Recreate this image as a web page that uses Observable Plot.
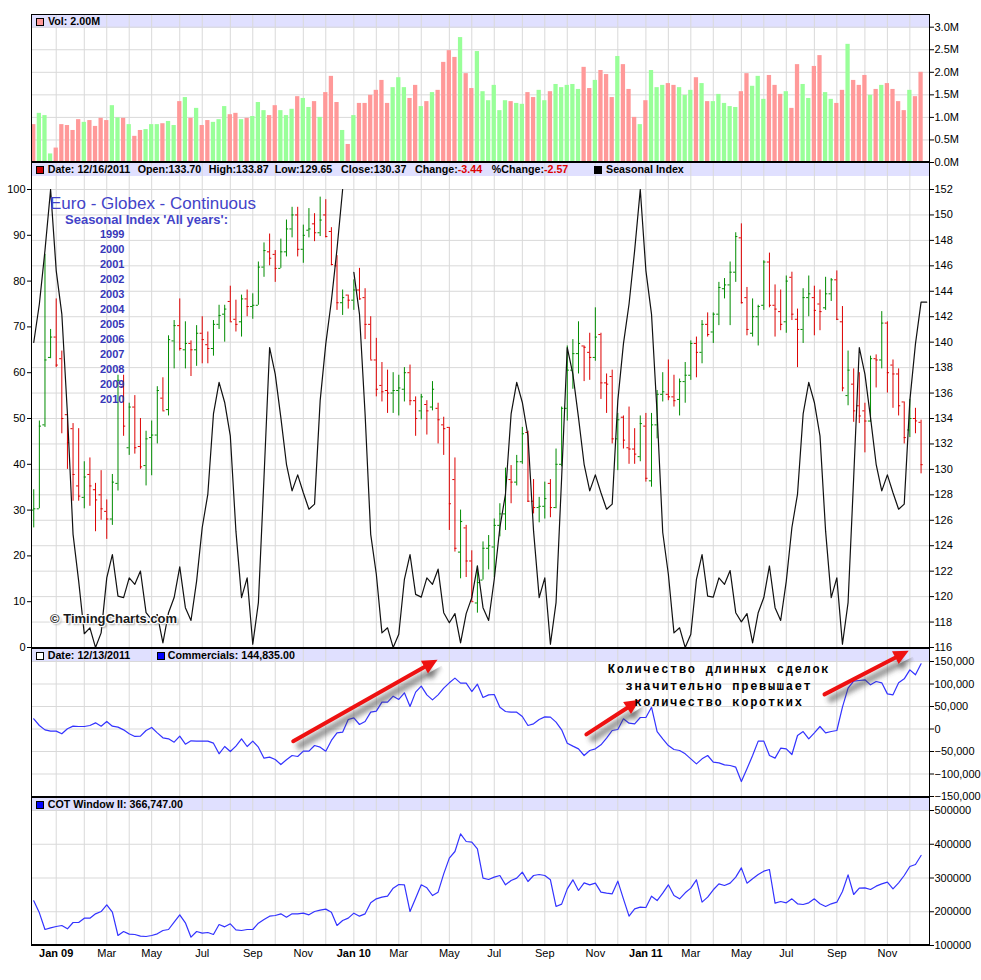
<!DOCTYPE html>
<html lang="ru">
<head>
<meta charset="UTF-8">
<title>Euro - Globex - Continuous</title>
<script src="https://cdn.jsdelivr.net/npm/d3@7"></script>
<script src="https://cdn.jsdelivr.net/npm/@observablehq/plot@0.6"></script>
<style>
  body { margin: 0; background: #fff; }
  #chart { position: relative; width: 981px; height: 980px; font-family: "Liberation Sans", Arial, sans-serif; }
  #chart svg { position: absolute; left: 0; z-index: 1; }
  #chart div { z-index: 2; }
  #chart div.band { z-index: 0; }
  .band { position: absolute; left: 32px; width: 897px; height: 13px; background: rgba(204,204,255,0.6); }
  .hdr { position: absolute; font-size: 10.7px; font-weight: bold; line-height: 13px; white-space: nowrap; color: #000; }
  .sq { position: absolute; left: 36px; width: 6px; height: 6px; border: 1px solid #000; }
  .neg { color: #dd0000; }
  .frame { position: absolute; left: 31px; top: 14px; width: 897px; height: 929px; border: 1px solid #000; border-bottom-width: 2px; }
  .sep { position: absolute; left: 31px; width: 899px; height: 2px; background: #000; }
  .title { position: absolute; color: #4343c8; white-space: nowrap; }
  .years { position: absolute; left: 100px; top: 227px; font-size: 11px; font-weight: bold; line-height: 15px; color: #3636b8; }
  .copy { position: absolute; left: 50px; top: 611px; font-size: 13px; font-weight: bold; color: #1a1a1a;
          text-shadow: 1px 1px 0 #fff, -1px -1px 0 #fff, 1px -1px 0 #fff, -1px 1px 0 #fff, 2px 2px 2px #999; }
  .note { position: absolute; left: 601px; top: 662px; width: 236px; text-align: center; font-family: "Liberation Mono", monospace;
          font-size: 12px; font-weight: bold; letter-spacing: 1.7px; line-height: 16.7px; color: #000; white-space: nowrap; }
</style>
</head>
<body>
<div id="chart"></div>
<script>
// weekly bars, 5 Dec 2008 .. 16 Dec 2011 (index 0..158)
const open = [126.8,126.9,133.5,138.8,140.4,138.7,134.3,133.2,128.7,127.8,
  129.6,128.4,128.0,126.7,126.1,128.9,136.5,131.7,134.9,131.8,
  130.3,132.5,132.7,135.6,134.7,140.1,141.3,139.4,139.9,139.4,
  140.7,139.8,139.5,141.4,142.2,143.2,141.8,141.6,143.4,142.8,
  142.9,145.9,147.1,146.9,145.8,147.1,148.9,150.0,147.3,148.8,
  149.3,148.6,150.0,148.7,146.0,143.1,143.7,143.3,144.1,143.5,
  141.4,138.6,136.6,136.2,136.0,136.2,136.3,137.6,135.4,134.6,
  135.1,134.9,134.8,133.5,133.3,129.2,123.5,125.4,122.8,119.5,
  121.3,123.8,123.9,125.6,126.5,129.2,129.0,130.6,132.9,127.5,
  127.0,127.1,128.9,127.0,130.4,134.8,137.8,139.1,139.7,139.2,
  138.8,140.6,136.8,137.3,132.4,134.1,131.7,131.6,131.0,133.4,
  129.1,133.5,135.9,135.9,135.7,135.5,136.9,137.4,139.9,139.2,
  141.4,140.8,142.2,144.2,144.5,145.5,148.2,143.5,140.7,142.0,
  142.9,146.3,142.9,142.4,141.6,145.1,141.8,141.0,143.5,143.5,
  143.0,142.7,143.8,144.9,141.6,135.8,136.7,135.0,134.6,133.8,
  138.7,138.6,141.5,138.2,137.5,135.3,133.1,134.0,133.70];
const high = [128.4,133.8,146.9,141.0,143.4,139.3,134.3,133.6,133.2,130.6,
  130.9,128.9,129.9,127.6,129.6,137.4,137.4,135.2,135.8,134.0,
  133.0,133.8,136.5,137.2,140.5,141.7,143.4,141.6,140.1,141.3,
  142.0,140.8,141.7,142.9,142.9,144.4,143.3,143.7,144.1,143.8,
  146.3,147.8,148.5,147.2,148.1,149.6,150.6,150.6,149.2,150.5,
  150.1,151.4,151.2,149.0,146.8,144.1,143.7,144.9,145.8,144.2,
  142.0,140.3,138.4,137.8,137.6,137.4,138.0,138.2,135.7,135.9,
  135.4,136.9,135.2,134.1,133.3,130.9,126.8,125.6,123.6,122.4,
  124.3,124.8,126.1,127.3,130.1,130.3,131.1,133.3,133.0,129.2,
  127.8,129.0,129.2,131.6,134.9,139.7,140.2,141.6,139.7,140.7,
  142.7,140.7,137.5,137.8,134.4,134.2,134.9,133.2,134.2,134.4,
  134.4,136.2,137.6,138.6,137.4,137.1,138.4,140.1,140.4,141.7,
  142.3,142.3,144.7,145.0,146.3,148.6,149.3,144.3,143.4,142.9,
  146.4,147.0,144.5,144.1,145.2,145.5,142.6,144.2,145.2,144.4,
  144.1,145.1,145.0,145.6,142.8,139.3,137.9,137.6,135.2,138.9,
  139.0,142.4,141.6,138.6,137.9,135.3,135.5,134.8,133.87];
const low = [125.4,126.9,133.3,138.7,138.0,132.8,130.0,127.5,127.5,126.9,
  127.1,125.1,126.0,124.5,125.6,128.3,132.6,131.1,131.2,130.0,
  128.7,129.5,132.0,134.6,134.2,137.9,139.3,137.9,137.3,138.1,
  138.3,138.3,138.9,141.0,140.0,141.6,140.8,140.4,142.0,141.8,
  142.9,145.1,146.0,144.7,145.8,146.7,148.2,146.7,146.2,148.2,
  147.9,148.3,148.2,146.0,142.5,142.1,142.6,142.5,143.3,140.2,
  138.6,135.7,135.3,134.4,134.4,134.2,135.3,135.0,132.6,133.9,
  132.7,134.6,132.0,131.1,125.2,123.5,121.4,121.5,119.6,118.7,
  121.3,122.1,121.5,124.7,125.2,127.3,128.7,130.4,127.4,126.5,
  125.8,126.1,126.2,126.9,130.2,133.8,136.3,137.5,136.9,137.0,
  138.5,135.5,134.4,132.0,129.9,131.6,130.4,130.4,130.6,129.0,
  128.6,132.4,135.3,135.4,134.9,134.2,135.2,137.0,137.2,138.3,
  140.4,139.9,141.3,143.4,141.3,144.7,143.0,140.5,140.4,139.7,
  142.5,142.7,140.4,140.9,140.7,141.7,138.0,139.9,142.0,140.5,
  140.9,142.5,143.2,141.7,136.1,135.0,133.7,133.6,131.3,133.7,
  136.4,137.9,136.0,134.8,134.2,132.0,132.5,132.8,129.65];
const close = [126.9,133.4,138.6,140.4,138.2,134.0,132.1,129.6,127.9,129.4,
  128.7,127.6,126.9,126.1,129.0,137.0,133.4,134.9,131.7,130.2,
  132.4,132.7,136.2,134.6,140.2,141.3,139.5,139.9,139.4,140.7,
  140.2,139.5,141.4,142.1,142.6,141.6,141.4,143.4,142.8,142.9,
  145.9,147.2,146.6,145.8,147.1,148.9,150.0,147.3,148.4,148.9,
  148.6,149.6,148.3,146.1,143.1,143.5,143.3,144.1,143.4,141.4,
  138.6,136.3,136.1,136.0,136.2,136.4,137.6,135.4,134.0,135.7,
  134.6,136.3,133.9,133.2,127.3,123.8,125.9,122.8,119.6,121.1,
  123.8,124.0,125.6,126.5,129.4,129.0,130.6,132.8,127.5,127.0,
  127.1,127.7,127.0,130.4,134.8,137.8,139.1,139.9,139.6,138.8,
  140.4,136.8,136.7,132.4,133.9,132.3,131.6,131.2,133.6,129.3,
  133.5,135.9,136.1,135.7,135.4,136.9,137.4,139.9,139.2,141.4,
  140.6,142.2,144.3,144.5,145.5,148.3,143.1,141.0,142.0,142.8,
  146.3,142.9,142.6,141.4,144.8,142.2,141.0,143.5,143.8,142.5,
  142.4,143.8,144.9,141.8,136.4,137.8,134.6,134.2,133.8,138.7,
  138.6,141.5,137.6,137.5,135.0,132.5,134.0,133.81,130.37];
const priorClose = 127.3; // close of the week before the first bar (estimate)

// weekly volume, millions
const volume = [0.84,1.09,1.04,0.19,0.32,0.84,0.82,0.71,0.95,0.89,
  0.93,0.80,0.98,0.93,1.26,0.99,0.98,0.84,0.58,0.71,
  0.73,0.84,0.84,0.86,0.91,0.82,1.35,1.44,0.98,1.20,
  0.82,0.93,0.89,0.95,1.24,1.06,1.09,0.95,0.98,1.02,
  1.33,1.15,1.04,1.26,1.15,1.04,1.18,1.46,1.42,1.22,
  1.35,1.00,1.55,1.91,1.33,0.71,0.40,1.04,1.31,1.31,
  1.49,1.60,1.82,1.31,1.66,1.88,1.66,1.42,1.71,1.24,
  1.35,1.55,1.60,2.22,2.48,2.33,2.77,1.97,1.64,2.46,
  1.57,1.37,1.71,1.15,1.37,1.35,1.31,1.29,1.55,1.44,
  1.60,1.37,1.57,1.73,1.66,1.71,1.73,1.62,2.11,1.64,
  1.82,2.04,1.95,1.44,2.35,2.17,1.62,1.00,0.84,1.37,
  2.04,1.66,1.71,1.75,1.71,1.66,1.49,1.60,1.88,1.75,
  1.35,1.35,1.51,1.31,1.24,1.22,1.57,1.97,1.69,1.91,
  1.40,1.93,1.71,1.51,1.57,1.20,2.17,1.73,1.42,2.13,
  2.37,1.55,1.40,1.31,1.60,2.62,1.82,1.71,1.93,1.49,
  1.62,1.71,1.75,1.62,1.35,1.15,1.60,1.46,2.00];

// seasonal index 0..100 (one week more than the bars, null = no value)
const seasonal = [66.6,75,86.7,100,82.3,72.8,51,24.7,14.5,3.0,
  4.3,0,3.2,15.2,20.3,11.2,10.9,15.2,13.8,16.7,
  7.6,6.1,7.2,1.0,7.6,10.9,17.6,8.7,5.9,14.5,
  26.2,33.5,51.0,57.9,53.5,46.2,25.4,10.9,15.2,0.7,
  9.8,37.1,65.5,59.7,50.2,40,34.2,37.7,33.8,30.2,
  31.3,53.9,66.3,75.7,87,100,null,81.9,72.8,51,
  24.7,16,3.2,4.3,0,2.9,14.9,20.3,11.6,11,
  15.2,13.8,17.1,7.6,5.4,7.4,1.0,7.4,10.9,17.8,
  8.7,5.9,14.9,26.2,33.5,51,57.9,53.5,46.2,25.4,
  10.9,15.2,0.7,9.8,37.1,65.5,59.7,50.2,40,34.2,
  37.7,33.8,30.2,31.3,53.9,66.3,75,86.7,100,82.3,
  72.8,51,25.1,16,3.2,4.3,0,2.9,14.9,20.3,
  11.2,11,15.2,13.8,16.8,7.6,5.6,7.4,1.0,7.6,
  10.9,17.8,8.7,5.9,14.5,26.2,33.5,51,57.9,53.5,
  46.2,25.4,10.9,15.2,0.7,9.8,37.1,65.5,59.7,50.2,
  40,34.2,37.7,33.8,30.2,31.3,53.9,66.3,75.4,75.4];

// commercials net position, thousands
const commercials = [22.6,7.8,-1.9,-4.8,-4.8,-10.7,0.4,6.3,5.6,5.6,
  7.8,13.7,6.3,16.7,6.3,4.1,-1.9,-10.7,-16.6,-15.9,
  -3.3,3.4,-8.5,-19.6,-21.8,-29.3,-15.9,-33.7,-26.3,-27,
  -27,-27,-31.5,-55.2,-38.9,-50,-38.1,-21.8,-38.9,-27,
  -40.4,-64.8,-62.6,-67.8,-78.9,-68.5,-58.9,-61.1,-49.3,-49.3,
  -36.7,-40.4,-49.3,-25.5,-8.5,-7,21.1,24.8,10,16.7,
  37.4,39.6,59.6,59.6,73,65.6,80.4,50,81.9,95.2,
  75.9,64.8,75.9,90.7,102.6,113,101.9,101.9,83.3,99.6,
  70,75.9,76.7,48.5,38.9,37.4,37.4,27.8,7.8,11.5,
  21.1,27,26.3,15.2,-1.9,-31.5,-38.1,-44.1,-58.9,-47.8,
  -44.1,-35.2,-20.4,-3.3,-1.1,22.6,13,11.5,25.6,25.6,
  48.5,-5.6,-21.8,-36.7,-45.6,-47.8,-55.2,-66.3,-77.4,-66.3,
  -58.9,-73.7,-75.2,-79.6,-81.1,-84.8,-116.7,-88.5,-58.9,-27,
  -27,-58.9,-64.8,-42.6,-44.1,-56.7,-14.4,-5.6,-21.8,-8.5,
  5.6,-8.5,-5.6,-3.3,48.5,90.7,106.3,107.8,109.3,98.1,
  105.6,102.6,78.1,75.9,102.6,111.5,131.5,120.4,144.835];

// COT Window II, thousands
const cotWindow = [232.3,196.8,147.4,152.3,156.3,159.3,149.4,168.1,168.1,181,
  181,193.8,200.7,220.5,198.8,129.6,141.5,133.6,132.6,127.7,
  126.7,129.6,134.6,144.4,147.4,169.1,190.9,167.2,124.7,141.5,
  136.5,138.5,132.6,162.2,155.3,164.2,146.4,144.4,147.4,147.4,
  166.2,177,186.9,188.9,193.8,184,193.8,193.8,195.8,190.9,
  200.7,204.7,207.7,198.8,159.3,174.1,181,195.8,186.9,193.8,
  226.4,238.3,243.2,246.2,269.9,280.7,279.8,200.7,240.3,279.8,
  270.9,248.1,258,312.3,358.8,378.5,430.9,408.1,406.2,386.4,
  299.5,295.6,302.5,307.4,279.8,292.6,299.5,317.3,289.6,307.4,
  310.4,307.4,294.6,215.6,222.5,267.9,294.6,263,285.7,279.8,
  284.7,258,255.1,253.1,290.6,238.3,186.9,208.6,213.6,212.6,
  246.2,233.3,255.1,279.8,248.1,238.3,256.1,269.9,294.6,228.4,
  243.2,265.1,282.7,277.8,284.7,302.5,330.1,284.7,297.5,310.4,
  320.2,325.2,225.4,230.4,226.4,238.3,223.5,221.5,226.4,238.3,
  223.5,215.6,223.5,228.4,260,309.4,251.1,269.9,270.9,265.9,
  275.8,282.7,287.7,267.9,285.7,307.4,334.1,340,366.747];

// first weekly bar of each month, and its label
const monthIdx = [4,9,13,17,21,26,30,35,39,43,48,52,57,61,65,69,74,78,82,87,91,95,100,104,
  109,113,117,121,126,130,134,139,143,148,152,156];
const monthLbl = ["Jan 09","","Mar","","May","","Jul","","Sep","","Nov","",
  "Jan 10","","Mar","","May","","Jul","","Sep","","Nov","",
  "Jan 11","","Mar","","May","","Jul","","Sep","","Nov",""];

const volTicks = [0,0.5,1,1.5,2,2.5,3];
const priceTicks = [116,118,120,122,124,126,128,130,132,134,136,138,140,142,144,146,148,150,152];
const seasonTicks = [0,10,20,30,40,50,60,70,80,90,100];
const commTicks = [-150,-100,-50,0,50,100,150];
const cotTicks = [100,200,300,400,500];
const years = ["1999","2000","2001","2002","2003","2004","2005","2006","2007","2008","2009","2010"];
// arrows on the commercials panel: [week from, thousands from, week to, thousands to]
const arrowsAt = [[46.2,-27,71.9,154],[98.4,-12,107.9,65],[140.8,77,155.8,174]];

const chart = document.getElementById("chart");
const W = 981, ML = 31, MR = 52;
const xDomain = [-0.4, 159.5];
const grid = "#d9d9d9", green = "#008c00", red = "#dd0000", blue = "#3333ff";
const pLo = priceTicks[0], pHi = priceTicks[priceTicks.length - 1];
const toPrice = s => pLo + s * (pHi - pLo) / 100; // seasonal -> price scale

const bars = close.map((c, i) => ({
  i, o: open[i], h: high[i], l: low[i], c, v: volume[i],
  up: c >= open[i], volUp: c >= (i ? close[i - 1] : priorClose)
}));
const seasonPts = seasonal.map((s, i) => ({i, s}));
const commPts = commercials.map((v, i) => ({i, v}));
const cotPts = cotWindow.map((v, i) => ({i, v}));
const months = monthIdx.map((i, k) => ({i, t: monthLbl[k]}));

function panel(top, height, mt, mb, domain, marks) {
  const svg = Plot.plot({
    width: W, height, marginLeft: ML, marginRight: MR, marginTop: mt, marginBottom: mb,
    x: {type: "linear", domain: xDomain, axis: null},
    y: {type: "linear", domain},
    style: {background: "transparent", overflow: "visible", fontFamily: "Liberation Sans, Arial, sans-serif", fontSize: "11px", color: "#000"},
    marks: [Plot.ruleX(monthIdx, {stroke: grid, insetTop: -mt}), ...marks]
  });
  svg.style.top = top + "px";
  chart.appendChild(svg);
  return svg;
}
const rightAxis = (ticks, fmt) => Plot.axisY(ticks, {anchor: "right", tickSize: 4, tickPadding: 1, tickFormat: fmt, label: null});

// volume
panel(14, 148, 12.7, 0, [0, 3], [
  Plot.ruleY(volTicks, {stroke: grid}),
  Plot.rect(bars, {x1: d => d.i - 0.38, x2: d => d.i + 0.38, y1: 0, y2: "v", fill: d => d.volUp ? "#99ff99" : "#ff9999"}),
  rightAxis(volTicks, d => d.toFixed(1) + "M")
]);

// price bars + seasonal index
panel(162, 486, 27, 1, [pLo, pHi], [
  Plot.ruleY(priceTicks, {stroke: grid}),
  Plot.ruleX(bars, {x: "i", y1: "l", y2: "h", stroke: d => d.up ? green : red, strokeWidth: 1}),
  Plot.ruleY(bars, {y: "o", x1: d => d.i - 0.38, x2: "i", stroke: d => d.up ? green : red}),
  Plot.ruleY(bars, {y: "c", x1: "i", x2: d => d.i + 0.38, stroke: d => d.up ? green : red}),
  Plot.line(seasonPts, {x: "i", y: d => d.s == null ? NaN : toPrice(d.s), stroke: "#111", strokeWidth: 1.2, clip: true}),
  rightAxis(priceTicks, d => d),
  Plot.axisY(seasonTicks.map(toPrice), {anchor: "left", tickSize: 4, tickPadding: 2, label: null,
    tickFormat: p => Math.round((p - pLo) * 100 / (pHi - pLo))})
]);

// commercials, with arrows
const xSc = Plot.scale({x: {type: "linear", domain: xDomain, range: [ML, W - MR]}});
const ySc = Plot.scale({y: {type: "linear", domain: [-150, 150], range: [148, 13]}});
const arrows = arrowsAt.map(([x1, y1, x2, y2]) => {
  const px1 = xSc.apply(x1), py1 = ySc.apply(y1), px2 = xSc.apply(x2), py2 = ySc.apply(y2);
  const a = Math.atan2(py2 - py1, px2 - px1);
  return {x1, y1, x2, y2,
    sx: xSc.invert(px2 - Math.cos(a) * 11), sy: ySc.invert(py2 - Math.sin(a) * 11),
    rot: a * 180 / Math.PI + 90};
});
const arrowHead = {draw(ctx, size) {
  const l = Math.sqrt(size);
  ctx.moveTo(0, 0); ctx.lineTo(-0.48 * l, l); ctx.lineTo(0.48 * l, l); ctx.closePath();
}};
const commSvg = panel(648, 149, 13, 1, [-150, 150], [
  Plot.ruleY(commTicks, {stroke: grid}),
  Plot.line(commPts, {x: "i", y: "v", stroke: blue, strokeWidth: 1.2}),
  Plot.link(arrows, {x1: "x1", y1: "y1", x2: "sx", y2: "sy", stroke: "#444", strokeOpacity: 0.55, strokeWidth: 7, dx: 4, dy: 6, ariaLabel: () => "shadow"}),
  Plot.dot(arrows, {x: "x2", y: "y2", symbol: arrowHead, r: 9, rotate: "rot", fill: "#444", fillOpacity: 0.55, dx: 4, dy: 6, ariaLabel: () => "shadow"}),
  Plot.link(arrows, {x1: "x1", y1: "y1", x2: "sx", y2: "sy", stroke: "#ee1111", strokeWidth: 4, strokeLinecap: "round"}),
  Plot.dot(arrows, {x: "x2", y: "y2", symbol: arrowHead, r: 8.5, rotate: "rot", fill: "#ee1111"}),
  rightAxis(commTicks, d => d3.format(",")(d * 1000))
]);
// soft blur for the arrow shadows
const NS = "http://www.w3.org/2000/svg";
const defs = document.createElementNS(NS, "defs");
defs.innerHTML = '<filter id="soft" filterUnits="userSpaceOnUse" x="0" y="0" width="981" height="149"><feGaussianBlur stdDeviation="2.6"/></filter>';
commSvg.prepend(defs);
commSvg.querySelectorAll('[aria-label="shadow"]').forEach(el => el.setAttribute("filter", "url(#soft)"));

// COT window + month labels
panel(797, 183, 13, 35, [100, 500], [
  Plot.ruleY(cotTicks, {stroke: grid}),
  Plot.line(cotPts, {x: "i", y: "v", stroke: blue, strokeWidth: 1.2}),
  rightAxis(cotTicks, d => String(d * 1000)),
  Plot.text(months.filter(d => d.t && !d.t.startsWith("Jan")), {x: "i", text: "t", frameAnchor: "bottom", dy: 11, fontSize: 11}),
  Plot.text(months.filter(d => d.t.startsWith("Jan")), {x: "i", text: "t", frameAnchor: "bottom", dy: 11, fontSize: 11, fontWeight: "bold"})
]);

// frame, header bands and texts
function add(cls, css, html) {
  const el = document.createElement("div");
  el.className = cls;
  Object.assign(el.style, css);
  if (html != null) el.innerHTML = html;
  chart.appendChild(el);
  return el;
}
add("frame", {});
[161, 647, 796].forEach(t => add("sep", {top: t + "px"}));
[15, 163, 649, 798].forEach(t => add("band", {top: t + "px"}));

const f2 = v => v.toFixed(2);
const last = bars.length - 1;
const chg = close[last] - close[last - 1];
const big = d3.format(",.2f");

add("sq", {top: "17.5px", background: "#ff9999"});
add("hdr", {left: "48px", top: "15px"}, "Vol: " + f2(volume[last]) + "M");

add("sq", {top: "165.5px", background: "#cc0000"});
[[47.7, "Date: 12/16/2011"], [137.7, "Open:" + f2(open[last])], [208.7, "High:" + f2(high[last])],
 [274.7, "Low:" + f2(low[last])], [341, "Close:" + f2(close[last])],
 [415, 'Change:<span class="neg">' + f2(chg) + "</span>"],
 [491.7, '%Change:<span class="neg">' + f2(chg / close[last - 1] * 100) + "</span>"],
 [606, "Seasonal Index"]].forEach(([x, h]) => add("hdr", {left: x + "px", top: "163px"}, h));
add("sq", {top: "165.5px", left: "594px", background: "#000"});

add("sq", {top: "651.5px", background: "#fff"});
add("hdr", {left: "47.7px", top: "649px"}, "Date: 12/13/2011");
add("sq", {top: "651.5px", left: "156.5px", background: "#0000ff"});
add("hdr", {left: "167.7px", top: "649px"}, "Commercials: " + big(commercials[last] * 1000));

add("sq", {top: "800.5px", background: "#0000ff"});
add("hdr", {left: "47.7px", top: "798px"}, "COT Window II: " + big(cotWindow[last] * 1000));

add("title", {left: "50px", top: "195px", fontSize: "17px", lineHeight: "17px"}, "Euro - Globex - Continuous");
add("title", {left: "65px", top: "212.5px", fontSize: "13px", lineHeight: "13px", fontWeight: "bold"}, "Seasonal Index 'All years':");
add("years", {}, years.join("<br>"));
add("copy", {}, "© TimingCharts.com");
add("note", {}, "Количество длинных сделок<br>значительно превышает<br>количество коротких");
</script>
</body>
</html>
